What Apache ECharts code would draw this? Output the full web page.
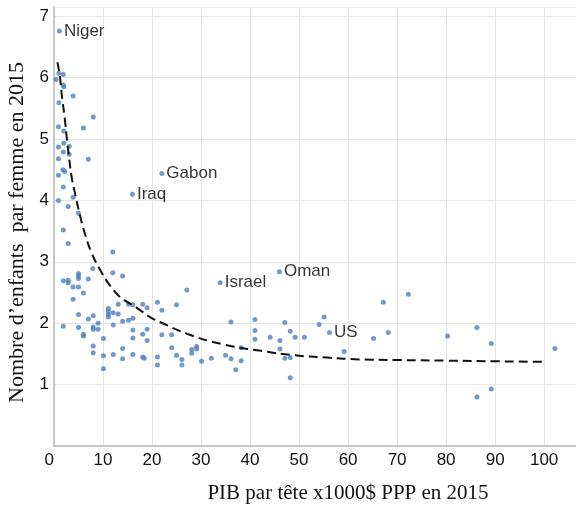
<!DOCTYPE html>
<html><head><meta charset="utf-8">
<script src="https://cdn.jsdelivr.net/npm/echarts@6/dist/echarts.min.js"></script>
<style>html,body{margin:0;padding:0;background:#fff}#c{width:576px;height:507px}</style>
</head><body><div id="c"></div><script>
// GDP per capita (x1000 $ PPP) for unlabeled countries
const gdpX = [0.4,1.0,1.9,1.9,2.0,3.9,1.0,8.0,0.9,6.0,2.0,2.0,0.9,3.1,1.9,3.1,0.9,7.0,
  0.9,1.8,2.2,1.9,0.9,3.9,2.9,5.0,1.9,2.9,12.0,7.9,12.0,14.0,5.0,5.0,5.0,7.0,1.9,2.9,2.9,3.9,5.0,6.0,
  3.9,13.1,15.2,16.1,18.1,19.0,21.1,11.1,11.1,11.1,11.1,12.1,13.1,5.0,8.0,7.0,14.0,15.2,16.1,1.9,5.0,9.0,8.0,8.0,9.0,12.1,16.1,19.0,6.0,6.0,18.1,10.1,16.1,19.0,8.0,14.0,8.0,10.1,12.1,14.0,16.1,18.1,18.4,21.1,21.1,10.1,
  22.0,25.0,27.1,22.0,24.0,36.1,41.0,41.0,41.0,24.0,25.0,26.1,26.1,28.1,28.1,29.1,29.1,30.1,32.1,35.0,36.1,37.1,38.2,38.2,
  47.1,44.1,46.1,48.2,49.2,51.1,46.1,47.1,48.2,48.2,54.1,55.1,59.2,65.2,67.2,68.2,72.3,
  80.3,86.3,89.2,102.2,89.2,86.3];
// Fertility (children per woman)
const fertY = [5.97,6.07,6.05,5.88,5.85,5.70,5.59,5.36,5.20,5.18,5.13,4.93,4.87,4.88,4.79,4.75,4.68,4.67,
  4.41,4.50,4.47,4.22,4.00,4.05,3.90,3.79,3.52,3.30,3.16,2.89,2.82,2.77,2.81,2.77,2.73,2.72,2.69,2.70,2.66,2.59,2.59,2.49,
  2.39,2.31,2.31,2.30,2.31,2.25,2.34,2.24,2.19,2.14,2.10,2.17,2.15,2.14,2.12,2.07,2.03,2.05,2.08,1.95,1.93,2.00,1.94,1.90,1.90,1.97,1.89,1.90,1.82,1.79,1.82,1.75,1.76,1.72,1.63,1.59,1.52,1.47,1.49,1.42,1.49,1.45,1.43,1.45,1.32,1.26,
  2.21,2.30,2.54,1.81,1.81,2.02,2.06,1.88,1.74,1.60,1.48,1.41,1.32,1.57,1.51,1.62,1.58,1.38,1.43,1.48,1.42,1.24,1.60,1.39,
  2.01,1.77,1.72,1.87,1.77,1.77,1.58,1.43,1.44,1.11,1.98,2.10,1.54,1.75,2.34,1.85,2.47,
  1.79,1.93,1.67,1.59,0.93,0.80];
const labelNames = ['Niger','Gabon','Iraq','Israel','Oman','US'];
const labelX = [1.1,22.0,16.0,33.9,46.0,56.2];
const labelY = [6.76,4.44,4.10,2.66,2.84,1.85];
// dashed fitted curve
const fitX = [0.7,1.2,1.6,2.2,2.7,3.1,3.6,4.3,5.2,6.3,7.7,9.4,11.1,12.8,14.3,16.9,19.6,21.6,27.4,34.2,42.2,48.8,55.7,62.4,70,80,90,99.9];
const fitY = [6.25,6.02,5.71,5.33,4.95,4.68,4.38,4.11,3.79,3.46,3.14,2.87,2.65,2.48,2.38,2.25,2.10,2.02,1.82,1.66,1.55,1.48,1.44,1.41,1.40,1.39,1.38,1.37];
const xTickLabels = ['0','10','20','30','40','50','60','70','80','90','100'];
const yTickLabels = ['0','1','2','3','4','5','6','7'];

const pts = gdpX.map((x,i)=>[x,fertY[i]]);
const lab = labelX.map((x,i)=>({value:[x,labelY[i]], name:labelNames[i]}));
const fit = fitX.map((x,i)=>[x,fitY[i]]);

const chart = echarts.init(document.getElementById('c'), null, {renderer:'canvas'});
chart.setOption({
  animation:false,
  backgroundColor:'#fff',
  grid:{left:54, top:7, right:0, bottom:61, containLabel:false, outerBoundsMode:'none'},
  xAxis:{type:'value', min:0, max:106.5, interval:10,
    axisLine:{show:true, lineStyle:{color:'#b8b8b8', width:1.5}},
    axisTick:{show:false},
    splitLine:{show:true, lineStyle:{color:'#e4e4e4', width:1}},
    axisLabel:{color:'#111', fontSize:17, fontFamily:'Liberation Sans', margin:6, alignMinLabel:'right',
      formatter:(v)=>{const i=Math.round(v/10); return xTickLabels[i]!==undefined && Math.abs(v-i*10)<1e-6 ? xTickLabels[i] : '';}},
    name:'PIB par tête x1000$ PPP en 2015', nameLocation:'middle', nameGap:37,
    nameTextStyle:{fontFamily:'Liberation Serif', fontSize:21, color:'#111', padding:[0,0,0,66]}
  },
  yAxis:{type:'value', min:0, max:7.15, interval:1,
    axisLine:{show:true, lineStyle:{color:'#b8b8b8', width:1.5}},
    axisTick:{show:false},
    splitLine:{show:true, lineStyle:{color:'#e4e4e4', width:1}},
    axisLabel:{color:'#111', fontSize:17, fontFamily:'Liberation Sans', margin:5, showMinLabel:false,
      formatter:(v)=>{const i=Math.round(v); return Math.abs(v-i)<1e-6 && yTickLabels[i]!==undefined ? yTickLabels[i] : '';}},
    name:'Nombre d\u2019enfants  par femme en 2015', nameLocation:'middle', nameGap:26, nameRotate:90,
    nameTextStyle:{fontFamily:'Liberation Serif', fontSize:22, color:'#111', padding:[0,12,0,0]}
  },
  series:[
    {type:'scatter', data:pts, symbolSize:5, itemStyle:{color:'#4f7fbf'}, silent:true},
    {type:'scatter', data:lab, symbolSize:5, itemStyle:{color:'#4f7fbf'}, silent:true,
      label:{show:true, position:'right', distance:2, formatter:'{b}', color:'#000', fontSize:17, fontFamily:'Liberation Sans'}},
    {type:'line', data:fit, smooth:true, showSymbol:false, silent:true, z:5,
      lineStyle:{color:'#111', width:2, type:[9,5]}}
  ]
});
</script></body></html>
